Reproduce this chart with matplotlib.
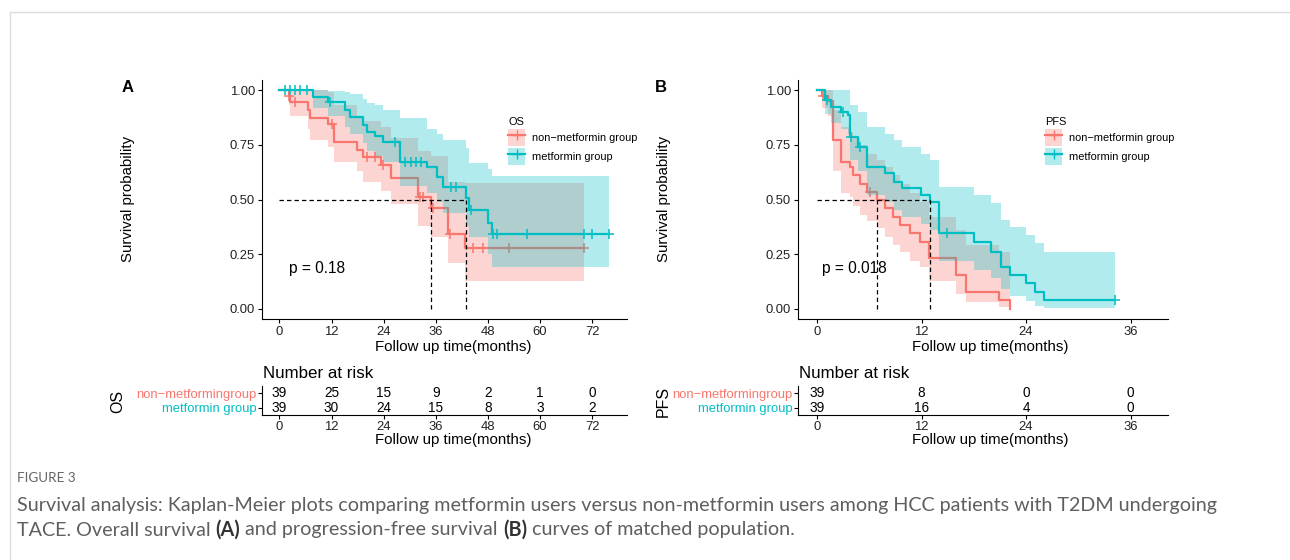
import numpy as np
import matplotlib
matplotlib.use("Agg")
import matplotlib.pyplot as plt
from matplotlib.patches import Patch
from matplotlib.lines import Line2D

plt.rcParams['font.family'] = ['Liberation Sans', 'DejaVu Sans']

RED = '#F8766D'
TEAL = '#00BFC4'

# ---------------- OS (panel A) ----------------
os_non_time  = [0, 2.1, 2.5, 6.7, 7.0, 11.25, 12.6, 17.8, 19.3, 23.5, 25.8, 31.9, 35.0, 38.8, 42.7]
os_non_surv  = [1.0, 0.974, 0.947, 0.909, 0.87, 0.847, 0.764, 0.726, 0.695, 0.658, 0.597, 0.513, 0.46, 0.342, 0.277]
os_non_upper = [1.0, 1.0, 1.0, 1.0, 1.0, 0.99, 0.93, 0.88, 0.86, 0.83, 0.78, 0.72, 0.70, 0.58, 0.574]
os_non_lower = [1.0, 0.93, 0.88, 0.82, 0.77, 0.74, 0.67, 0.63, 0.58, 0.54, 0.48, 0.38, 0.33, 0.21, 0.13]
os_non_end = 70.0
os_non_censor = [2.3, 3.6, 12.0, 20.1, 22.0, 23.9, 32.3, 33.1, 35.4, 39.2, 44.6, 46.9, 52.8, 70.0]

os_met_time  = [0, 7.8, 11.2, 15.1, 16.2, 19.3, 20.1, 22.0, 23.9, 27.7, 33.9, 36.2, 37.7, 43.0, 43.7, 48.0, 48.9]
os_met_surv  = [1.0, 0.97, 0.947, 0.909, 0.878, 0.84, 0.81, 0.79, 0.764, 0.673, 0.647, 0.604, 0.556, 0.505, 0.452, 0.394, 0.342]
os_met_upper = [1.0, 1.0, 0.995, 0.99, 0.98, 0.96, 0.94, 0.93, 0.91, 0.87, 0.82, 0.80, 0.77, 0.733, 0.665, 0.64, 0.609]
os_met_lower = [1.0, 0.92, 0.88, 0.83, 0.80, 0.76, 0.72, 0.70, 0.67, 0.56, 0.53, 0.49, 0.44, 0.38, 0.33, 0.25, 0.19]
os_met_end = 75.9
os_met_censor = [1.3, 2.4, 3.6, 4.7, 6.3, 11.7, 26.6, 28.8, 30.4, 31.5, 32.7, 39.6, 40.7, 44.0,
                 49.2, 50.1, 57.0, 70.0, 71.9, 75.9]
os_medians = [35.0, 43.0]
os_p = 'p = 0.18'

os_risk_times = [0, 12, 24, 36, 48, 60, 72]
os_risk_non = [39, 25, 15, 9, 2, 1, 0]
os_risk_met = [39, 30, 24, 15, 8, 3, 2]

# ---------------- PFS (panel B) ----------------
pfs_non_time  = [0, 0.5, 1.24, 1.82, 2.79, 3.76, 4.14, 4.92, 5.69, 6.9, 7.8, 8.75, 9.5, 10.7, 11.85, 12.8, 15.9, 17.1, 20.9, 22.1]
pfs_non_surv  = [1.0, 0.974, 0.95, 0.772, 0.672, 0.65, 0.611, 0.573, 0.535, 0.498, 0.46, 0.42, 0.384, 0.346, 0.307, 0.231, 0.155, 0.079, 0.041, 0.0]
pfs_non_upper = [1.0, 1.0, 1.0, 0.91, 0.83, 0.81, 0.78, 0.75, 0.71, 0.68, 0.65, 0.61, 0.57, 0.53, 0.49, 0.42, 0.36, 0.29, 0.26, 0.26]
pfs_non_lower = [1.0, 0.92, 0.88, 0.63, 0.53, 0.51, 0.47, 0.43, 0.40, 0.37, 0.33, 0.29, 0.26, 0.22, 0.19, 0.13, 0.07, 0.03, 0.01, 0.0]
pfs_non_end = 22.1
pfs_non_censor = [0.7, 6.1]

pfs_met_time  = [0, 0.85, 1.63, 2.79, 3.56, 3.76, 4.72, 5.69, 7.82, 8.79, 9.76, 11.9, 13.0, 14.0, 18.04, 19.97, 21.1, 22.1, 24.0, 25.0, 26.0]
pfs_met_surv  = [1.0, 0.954, 0.924, 0.901, 0.886, 0.787, 0.741, 0.65, 0.62, 0.581, 0.551, 0.52, 0.49, 0.346, 0.307, 0.262, 0.193, 0.155, 0.117, 0.079, 0.041]
pfs_met_upper = [1.0, 1.0, 1.0, 1.0, 1.0, 0.93, 0.90, 0.83, 0.80, 0.77, 0.74, 0.71, 0.68, 0.558, 0.52, 0.483, 0.406, 0.376, 0.338, 0.30, 0.262]
pfs_met_lower = [1.0, 0.89, 0.85, 0.82, 0.80, 0.68, 0.63, 0.52, 0.49, 0.45, 0.42, 0.39, 0.36, 0.22, 0.18, 0.14, 0.09, 0.06, 0.035, 0.015, 0.005]
pfs_met_end = 34.2
pfs_met_censor = [1.1, 3.0, 3.9, 4.9, 14.9, 34.2]
pfs_medians = [6.9, 13.0]
pfs_p = 'p = 0.018'

pfs_risk_times = [0, 12, 24, 36]
pfs_risk_non = [39, 8, 0, 0]
pfs_risk_met = [39, 16, 4, 0]

group_labels = ['non\u2212metformin group', 'metformin group']
risk_labels = ['non\u2212metformingroup', 'metformin group']

W, H = 1290, 560
fig = plt.figure(figsize=(W / 100, H / 100), dpi=100)


def px_axes(l, t, r, b):
    return fig.add_axes([l / W, 1 - b / H, (r - l) / W, (b - t) / H])


def km(ax, t, s, lo, hi, end, cens, color, z):
    x = np.append(t, end)
    ax.fill_between(x, np.append(lo, lo[-1]), np.append(hi, hi[-1]), step='post',
                    color=color, alpha=0.3, lw=0, zorder=z)
    ax.step(x, np.append(s, s[-1]), where='post', color=color, lw=1.6, zorder=z + 0.5)
    idx = np.searchsorted(t, cens, side='right') - 1
    ax.plot(cens, np.asarray(s)[idx], ls='none', marker='+', ms=6.5, mew=1.1,
            color=color, zorder=z + 0.5)


def style(ax, pad=2):
    for sp in ['top', 'right']:
        ax.spines[sp].set_visible(False)
    for sp in ['left', 'bottom']:
        ax.spines[sp].set_linewidth(0.8)
    ax.tick_params(labelsize=9.4, length=3, width=0.8, pad=pad, labelcolor='#222222')


panels = [
    dict(l=262, r=627, xlim=(-4.0, 80.0), ticks=os_risk_times, name='OS', letter='A',
         non=(os_non_time, os_non_surv, os_non_lower, os_non_upper, os_non_end, os_non_censor),
         met=(os_met_time, os_met_surv, os_met_lower, os_met_upper, os_met_end, os_met_censor),
         med=os_medians, p=os_p, px=2.2, rn=os_risk_non, rm=os_risk_met,
         xc=453, ylab_x=128, lab_x=128, name_x=118, leg_x=503),
    dict(l=798, r=1168, xlim=(-2.2, 40.3), ticks=pfs_risk_times, name='PFS', letter='B',
         non=(pfs_non_time, pfs_non_surv, pfs_non_lower, pfs_non_upper, pfs_non_end, pfs_non_censor),
         met=(pfs_met_time, pfs_met_surv, pfs_met_lower, pfs_met_upper, pfs_met_end, pfs_met_censor),
         med=pfs_medians, p=pfs_p, px=0.6, rn=pfs_risk_non, rm=pfs_risk_met,
         xc=990, ylab_x=664, lab_x=661, name_x=663, leg_x=1040),
]

for pn in panels:
    ax = px_axes(pn['l'], 80, pn['r'], 319)
    km(ax, *pn['non'], RED, 1)
    km(ax, *pn['met'], TEAL, 2)
    m1, m2 = pn['med']
    ax.plot([0, max(m1, m2)], [0.5, 0.5], color='black', ls=(0, (3.5, 2.5)), lw=0.9, zorder=4)
    for m in (m1, m2):
        ax.plot([m, m], [0, 0.5], color='black', ls=(0, (3.5, 2.5)), lw=0.9, zorder=4)
    ax.text(pn['px'], 0.187, pn['p'], fontsize=11.2, va='center', ha='left')
    ax.set_xlim(*pn['xlim'])
    ax.set_ylim(-0.0457, 1.0457)
    ax.set_xticks(pn['ticks'])
    ax.set_yticks([0, 0.25, 0.5, 0.75, 1.0])
    ax.set_yticklabels(['0.00', '0.25', '0.50', '0.75', '1.00'])
    style(ax)

    handles = [(Patch(facecolor=RED, alpha=0.3, lw=0), Line2D([], [], color=RED, lw=1.6, marker='+', ms=6.5)),
               (Patch(facecolor=TEAL, alpha=0.3, lw=0), Line2D([], [], color=TEAL, lw=1.6, marker='+', ms=6.5))]
    ax.legend(handles, group_labels, title=pn['name'], loc='upper left',
              bbox_to_anchor=(pn['leg_x'] / W, 1 - 112 / H), bbox_transform=fig.transFigure,
              frameon=False, fontsize=7.9, title_fontsize=7.9, handlelength=1.5, handleheight=2.0,
              labelspacing=0.15, borderpad=0, handletextpad=0.65, alignment='left')

    fig.text(pn['lab_x'] / W, 1 - 87 / H, pn['letter'], fontsize=12, fontweight='bold',
             ha='center', va='center')
    fig.text(pn['ylab_x'] / W, 1 - 199 / H, 'Survival probability', rotation=90, fontsize=10.8,
             ha='center', va='center')
    fig.text(pn['xc'] / W, 1 - 347 / H, 'Follow up time(months)', fontsize=10.8,
             ha='center', va='center')

    # risk table
    rt = px_axes(pn['l'], 386, pn['r'], 415)
    for tm, n in zip(pn['ticks'], pn['rn']):
        rt.text(tm, 2, str(n), ha='center', va='center', fontsize=9.8)
    for tm, n in zip(pn['ticks'], pn['rm']):
        rt.text(tm, 1, str(n), ha='center', va='center', fontsize=9.8)
    rt.set_xlim(*pn['xlim'])
    rt.set_ylim(0.5, 2.5)
    rt.set_xticks(pn['ticks'])
    rt.set_yticks([1, 2])
    rt.set_yticklabels([risk_labels[1], risk_labels[0]])
    style(rt, pad=1)
    rt.get_yticklabels()[0].set_color(TEAL)
    rt.get_yticklabels()[1].set_color(RED)
    fig.text(pn['l'] / W + 1 / W, 1 - 373 / H, 'Number at risk', fontsize=12.2, ha='left', va='center')
    fig.text(pn['name_x'] / W, 1 - 401 / H, pn['name'], rotation=90, fontsize=11.5,
             ha='center', va='center')
    fig.text(pn['xc'] / W, 1 - 440 / H, 'Follow up time(months)', fontsize=10.8,
             ha='center', va='center')

# card border
fig.add_artist(Line2D([10 / W, 1], [1 - 12 / H, 1 - 12 / H], transform=fig.transFigure,
                      color='#dcdcdc', lw=1))
fig.add_artist(Line2D([10 / W, 10 / W], [0, 1 - 12 / H], transform=fig.transFigure,
                      color='#dcdcdc', lw=1))

# caption
cap_font = ['Lato', 'DejaVu Sans']
cap_color = '#5f5f5f'
renderer = fig.canvas.get_renderer()

fig_label = fig.text(17 / W, 1 - 478 / H, 'FIGURE 3', fontsize=10, color='#666666',
                     family=cap_font, va='center')
w = fig_label.get_window_extent(renderer).width
fig_label.set_fontsize(10 * 58 / w)

line1 = ('Survival analysis: Kaplan-Meier plots comparing metformin users versus '
         'non-metformin users among HCC patients with T2DM undergoing')
t1 = fig.text(17 / W, 1 - 506 / H, line1, fontsize=10, color=cap_color, family=cap_font, va='center')
w = t1.get_window_extent(renderer).width
cap_fs = 10 * 1200 / w
t1.set_fontsize(cap_fs)

probe_a = fig.text(0, 0, 'xx', fontsize=cap_fs, family=cap_font)
probe_b = fig.text(0, 0, 'x x', fontsize=cap_fs, family=cap_font)
space_px = probe_b.get_window_extent(renderer).width - probe_a.get_window_extent(renderer).width
probe_a.remove()
probe_b.remove()

parts = [('TACE. Overall survival', 'normal'), ('(A)', 'bold'), ('and progression-free survival', 'normal'),
         ('(B)', 'bold'), ('curves of matched population.', 'normal')]
x = 17
for s, wt in parts:
    t = fig.text(x / W, 1 - 530 / H, s, fontsize=cap_fs, color='#333333' if wt == 'bold' else cap_color,
                 family=cap_font, fontweight=wt, va='center')
    x = t.get_window_extent(renderer).x1 + space_px

fig.savefig('out.png', dpi=100)
